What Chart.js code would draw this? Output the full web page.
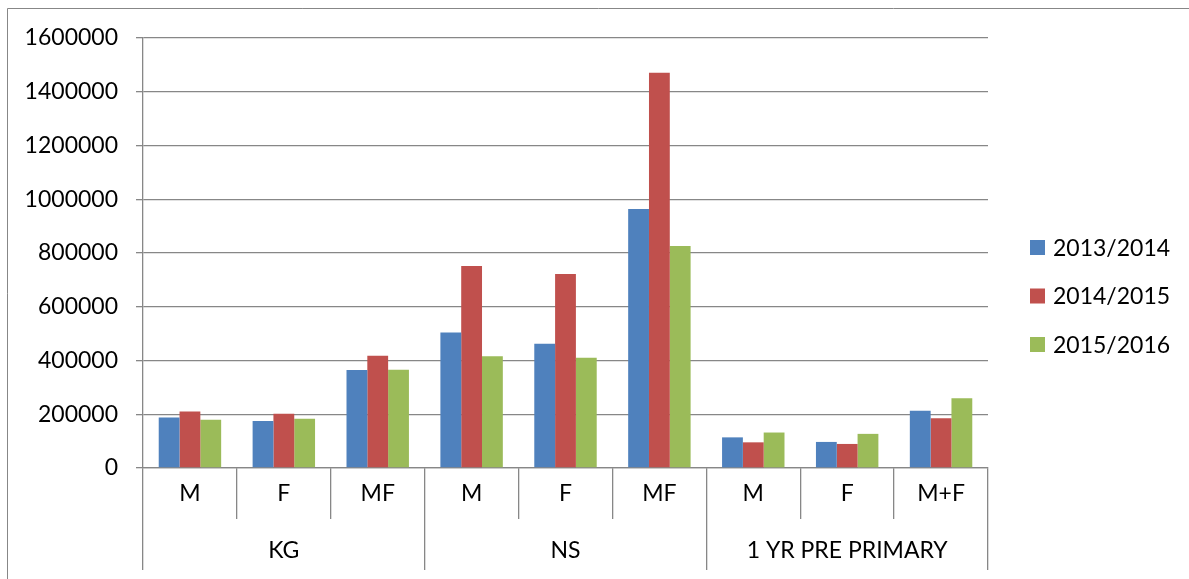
<!DOCTYPE html>
<html>
<head>
<meta charset="utf-8">
<script src="https://cdn.jsdelivr.net/npm/chart.js@4/dist/chart.umd.min.js"></script>
<style>
  html, body { margin: 0; padding: 0; background: #fff; }
  #wrap { position: relative; width: 1189px; height: 579px; }
</style>
</head>
<body>
<div id="wrap"><canvas id="c" width="1189" height="579"></canvas></div>
<script>
// ---- data ----
const categories = ["M", "F", "MF", "M", "F", "MF", "M", "F", "M+F"];
const groups = ["KG", "NS", "1 YR PRE PRIMARY"];
const seriesNames = ["2013/2014", "2014/2015", "2015/2016"];
const values2013 = [188000, 175000, 365000, 504000, 462000, 964000, 114000, 97000, 213000];
const values2014 = [210000, 202000, 418000, 752000, 722000, 1471000, 95500, 89500, 185000];
const values2015 = [180000, 183000, 366000, 416000, 410000, 826000, 132000, 127000, 260000];
const yTicks = [0, 200000, 400000, 600000, 800000, 1000000, 1200000, 1400000, 1600000];
const colors = ["#4F81BD", "#C0504D", "#9BBB59"];

const FONT = "Lato";
const GRID = "#878787";

const frame = {
  id: "frame",
  beforeDraw(chart) {
    const ctx = chart.ctx;
    ctx.save();
    ctx.strokeStyle = GRID;
    ctx.lineWidth = 1;
    ctx.beginPath();
    ctx.moveTo(7.5, 579);
    ctx.lineTo(7.5, 8.5);
    ctx.lineTo(1189, 8.5);
    ctx.stroke();
    ctx.restore();
  }
};

const legendPlugin = {
  id: "customLegend",
  afterDraw(chart) {
    const ctx = chart.ctx;
    ctx.save();
    ctx.font = "23px " + FONT;
    ctx.textBaseline = "middle";
    ctx.textAlign = "left";
    chart.data.datasets.forEach((ds, i) => {
      const cy = 247.5 + i * 48.5;
      ctx.fillStyle = ds.backgroundColor;
      ctx.fillRect(1030, cy - 7.5, 15, 15);
      ctx.fillStyle = "#000";
      ctx.fillText(ds.label, 1053, cy + 1);
    });
    ctx.restore();
  }
};

new Chart(document.getElementById("c"), {
  type: "bar",
  data: {
    labels: categories,
    datasets: [
      { label: seriesNames[0], data: values2013, backgroundColor: colors[0] },
      { label: seriesNames[1], data: values2014, backgroundColor: colors[1] },
      { label: seriesNames[2], data: values2015, backgroundColor: colors[2] }
    ]
  },
  options: {
    responsive: false,
    animation: false,
    devicePixelRatio: 1,
    datasets: { bar: { categoryPercentage: 0.665, barPercentage: 1.0 } },
    layout: { padding: { left: 0, right: 201, top: 38, bottom: 9 } },
    plugins: { legend: { display: false }, tooltip: { enabled: false } },
    scales: {
      y: {
        min: 0, max: 1600000,
        afterFit(s) { s.width = 143; },
        afterBuildTicks(s) { s.ticks = yTicks.map(v => ({ value: v })); },
        ticks: { color: "#000", font: { family: FONT, size: 23 }, padding: 18, callback: v => String(v) },
        grid: { color: GRID, lineWidth: 1.3, tickLength: 7 },
        border: { color: GRID, width: 1.3 }
      },
      x: {
        type: "category",
        labels: categories,
        position: "bottom",
        afterFit(s) { s.height = 51; },
        ticks: { color: "#000", font: { family: FONT, size: 23 }, padding: -39, maxRotation: 0, autoSkip: false },
        grid: { display: true, offset: true, drawOnChartArea: false, color: GRID, lineWidth: 1.3, tickLength: 51 },
        border: { color: GRID, width: 1.3 }
      },
      x2: {
        type: "category",
        labels: groups,
        position: "bottom",
        afterFit(s) { s.height = 51; },
        ticks: { color: "#000", font: { family: FONT, size: 23 }, padding: -33, maxRotation: 0, autoSkip: false },
        grid: { display: true, offset: true, drawOnChartArea: false, color: GRID, lineWidth: 1.3, tickLength: 51 },
        border: { display: false }
      }
    }
  },
  plugins: [frame, legendPlugin]
});
</script>
</body>
</html>
